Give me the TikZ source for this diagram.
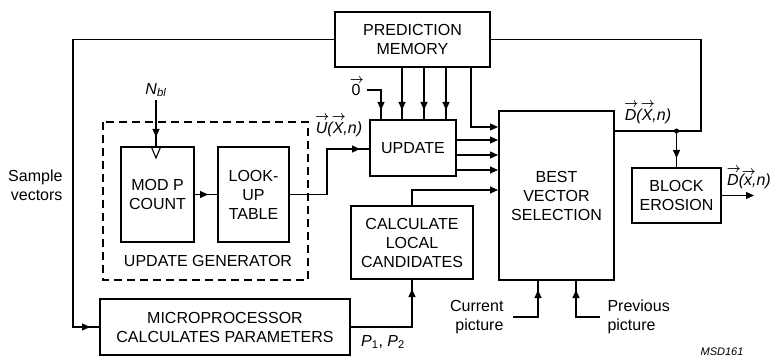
\documentclass[tikz,border=0pt]{standalone}
\usepackage{amsmath}
\usepackage{fontspec}
\setmainfont{Liberation Sans}
\usetikzlibrary{arrows.meta,decorations.markings}

% letter with a small arrow above it
\newcommand{\vv}[1]{\setbox0\hbox{#1}\rlap{\raisebox{\dimexpr\ht0+1.5pt}{\makebox[\wd0]{\hspace{1.5pt}\scalebox{0.7}[0.8]{$\boldsymbol{\rightarrow}$}}}}\box0}

\tikzset{
  blk/.style={draw,line width=2pt,align=center,inner sep=0pt},
  wire/.style={line width=1.1pt},
  arr/.style={-{Triangle[length=8pt,width=7pt]}},
  arrgap/.style={postaction={decorate},decoration={markings,
      mark=at position -9pt with {\arrow{Triangle[length=8pt,width=7pt]}}}},
}

\begin{document}
\begin{tikzpicture}[x=1pt,y=-1pt,every node/.style={font=\fontsize{16}{19}\selectfont}]
  \useasboundingbox (0,0) rectangle (776,358);

  \node[blk,minimum width=155pt,minimum height=55pt] (mem) at (412.5,39.5) {PREDICTION\\MEMORY};
  \node[blk,minimum width=86pt,minimum height=56pt] (upd) at (413,148) {UPDATE};
  \node[blk,minimum width=115pt,minimum height=169pt] (best) at (556.5,195.5) {BEST\\VECTOR\\SELECTION};
  \node[blk,minimum width=89pt,minimum height=55pt] (ero) at (676.5,195.5) {BLOCK\\EROSION};
  \node[blk,minimum width=122pt,minimum height=73pt] (calc) at (412,242.5) {CALCULATE\\LOCAL\\CANDIDATES};
  \node[blk,minimum width=250pt,minimum height=56pt] (micro) at (225,327) {MICROPROCESSOR\\CALCULATES PARAMETERS};
  \node[blk,minimum width=73pt,minimum height=95pt] (modp) at (157.5,194.5) {MOD P\\COUNT};
  \node[blk,minimum width=71pt,minimum height=95pt] (lut) at (253.5,194.5) {LOOK-\\UP\\TABLE};

  \draw[line width=2pt,dash pattern=on 8pt off 5pt] (103,122) rectangle (308,280);
  \node (genlbl) at (208,261) {UPDATE GENERATOR};

  % labels
  \node (nbl) at (156,90) {\textit{N}\textsubscript{\textit{bl}}};
  \node (zero) at (356,87) {\vv{0}};
  \node (ux) at (339,126) {\itshape\vv{U}(\vv{X},n)};
  \node (dx) at (648,113) {\itshape\vv{D}(\vv{X},n)};
  \node (dxo) at (749,178) {\itshape\vv{D}(\vv{x},n)};
  \node (pp) at (383,342) {\textit{P}\textsubscript{1}, \textit{P}\textsubscript{2}};
  \node[align=right,anchor=east] (sv) at (66,185) {Sample\\vectors};
  \node[align=right,anchor=east] (cur) at (507,317) {Current\\picture};
  \node[align=left,anchor=west] (prev) at (604,317) {Previous\\picture};
  \node[font=\fontsize{11}{13}\selectfont\itshape] (msd) at (722,352) {MSD161};

  \coordinate (svc) at (73,327);
  \coordinate (dxc) at (701,131);
  \coordinate (uxc) at (327,149);

  % connections
  \draw[wire,arrgap] (mem.west) -| (svc) -- (micro.west);
  \draw[wire] (mem.east) -| (dxc) -- (best.east |- dxc);
  \fill (ero.north |- dxc) circle (2.5pt);
  \draw[wire,arrgap] (ero.north |- dxc) -- (ero.north);
  \draw[wire,arr] (ero.east) -- ++(32,0) coordinate (dout);

  \draw[wire,arrgap] ([xshift=3pt]zero.east |- 0,90) -| (381,0 |- upd.north);
  \foreach \x in {402,424,446}
    \draw[wire,arrgap] (\x,0 |- mem.south) -- (\x,0 |- upd.north);
  \draw[wire,arr] (471,0 |- mem.south) |- (best.west |- 0,127);
  \foreach \y in {140,155,170}
    \draw[wire,arr] (upd.east |- 0,\y) -- (best.west |- 0,\y);
  \draw[wire,arr] (calc.north) |- (best.west |- 0,190);
  \draw[wire,arrgap] (micro.east) -| (calc.south);

  \draw[wire,arrgap] (nbl.south) -- (nbl.south |- modp.north);
  \draw[wire] ([xshift=-5pt]nbl.south |- modp.north) -- ([yshift=-12pt]nbl.south |- modp.north)
    -- ([xshift=5pt]nbl.south |- modp.north);
  \draw[wire,arrgap] (modp.east) -- (lut.west);
  \draw[wire,arrgap] (lut.east) -| (uxc) -- (upd.west |- uxc);

  \draw[wire,arrgap] ([xshift=6pt]cur.east) -| (538,0 |- best.south);
  \draw[wire,arrgap] ([xshift=-4pt]prev.west) -| (576,0 |- best.south);
\end{tikzpicture}
\end{document}
